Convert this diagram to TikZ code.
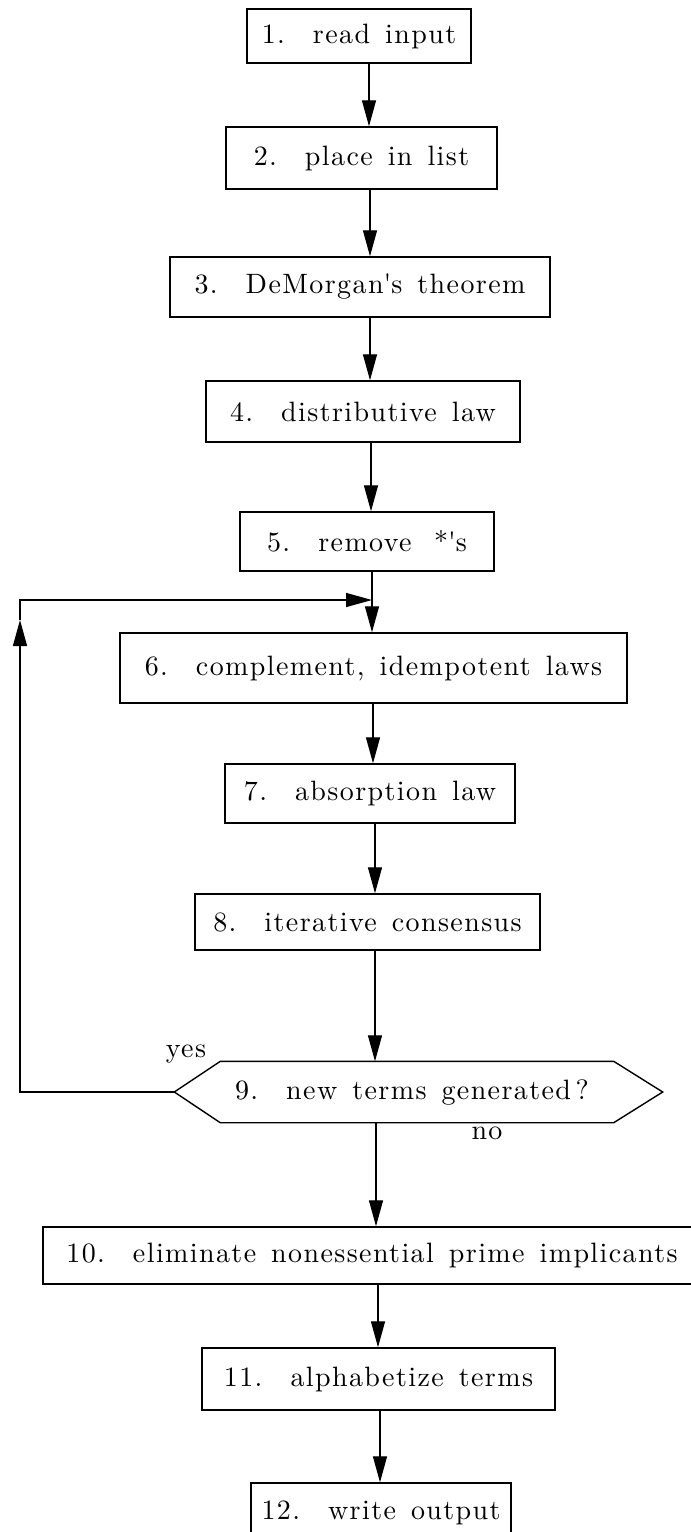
\documentclass[tikz,border=0pt]{standalone}
\usepackage{fontspec}
\setmainfont{lmroman10-regular}[Extension=.otf, LetterSpace=5, WordSpace=1.4]
\usetikzlibrary{arrows.meta}
\begin{document}
\begin{tikzpicture}[x=1pt,y=-1pt,
  box/.style={draw, line width=1.4pt, inner sep=0pt, font=\fontsize{28}{34}\selectfont},
  line/.style={line width=1.4pt},
  arr/.style={line width=1.3pt, -{Triangle[length=26pt,width=14pt]}},
  lbl/.style={inner sep=0pt, font=\fontsize{28}{34}\selectfont}]
\useasboundingbox (0,0) rectangle (691,1532);
\fill[white] (0,0) rectangle (691,1532);

\node[box, minimum width=224pt, minimum height=54pt] (b1) at (359,36) {1.\hspace{1em}read input};
\node[box, minimum width=271pt, minimum height=62pt] (b2) at (361.5,158) {2.\hspace{1em}place in list};
\node[box, minimum width=380pt, minimum height=60pt] (b3) at (360,287) {3.\hspace{1em}DeMorgan\textquotesingle s theorem};
\node[box, minimum width=314pt, minimum height=61pt] (b4) at (363,411.5) {4.\hspace{1em}distributive law};
\node[box, minimum width=254pt, minimum height=59pt] (b5) at (367,541.5) {5.\hspace{1em}remove\hspace{0.8em}*\textquotesingle s};
\node[box, minimum width=507pt, minimum height=70pt] (b6) at (373.5,668) {6.\hspace{1em}complement, idempotent laws};
\node[box, minimum width=290pt, minimum height=59pt] (b7) at (370,793.5) {7.\hspace{1em}absorption law};
\node[box, minimum width=345pt, minimum height=56pt] (b8) at (367.5,922) {8.\hspace{1em}iterative consensus};
\node[box, draw=none, minimum width=487pt, minimum height=60pt] (b9) at (418.5,1092) {\hspace{-13pt}9.\hspace{1em}new terms generated\,?};
\node[box, minimum width=658pt, minimum height=57pt] (b10) at (372,1255.5) {10.\hspace{1em}eliminate nonessential prime implicants};
\node[box, minimum width=353pt, minimum height=62pt] (b11) at (378.5,1379) {11.\hspace{1em}alphabetize terms};
\node[box, minimum width=260pt, minimum height=60pt] (b12) at (381,1513) {12.\hspace{1em}write output};

\draw[line] (b9.west) -- ([xshift=46pt]b9.north west) -- ([xshift=-49pt]b9.north east)
  -- (b9.east) -- ([xshift=-49pt]b9.south east) -- ([xshift=46pt]b9.south west) -- cycle;

\node[lbl] (yes) at (186,1054) {yes};
\node[lbl] (no) at (487,1133) {no};

\coordinate (s1) at (369,0);
\coordinate (s2) at (370,0);
\coordinate (s3) at (370,0);
\coordinate (s4) at (371,0);
\coordinate (s5) at (372,0);
\coordinate (s6) at (373,0);
\coordinate (s7) at (375,0);
\coordinate (s8) at (375,0);
\coordinate (s9) at (376,0);
\coordinate (s10) at (378,0);
\coordinate (s11) at (380,0);

\draw[arr] (b1.south -| s1) -- (b2.north -| s1);
\draw[arr] (b2.south -| s2) -- (b3.north -| s2);
\draw[arr] (b3.south -| s3) -- (b4.north -| s3);
\draw[arr] (b4.south -| s4) -- (b5.north -| s4);
\draw[arr] (b5.south -| s5) -- (b6.north -| s5);
\draw[arr] (b6.south -| s6) -- (b7.north -| s6);
\draw[arr] (b7.south -| s7) -- (b8.north -| s7);
\draw[arr] (b8.south -| s8) -- (b9.north -| s8);
\draw[arr] (b9.south -| s9) -- (b10.north -| s9);
\draw[arr] (b10.south -| s10) -- (b11.north -| s10);
\draw[arr] (b11.south -| s11) -- (b12.north -| s11);

\coordinate (lx) at (20,0);
\coordinate (ly) at (0,600);
\coordinate (lt) at (0,620);
\draw[arr] (b9.west) -- (b9.west -| lx) -- (lx |- lt);
\draw[arr] (lx |- lt) -- (lx |- ly) -- (ly -| s5);
\end{tikzpicture}
\end{document}
